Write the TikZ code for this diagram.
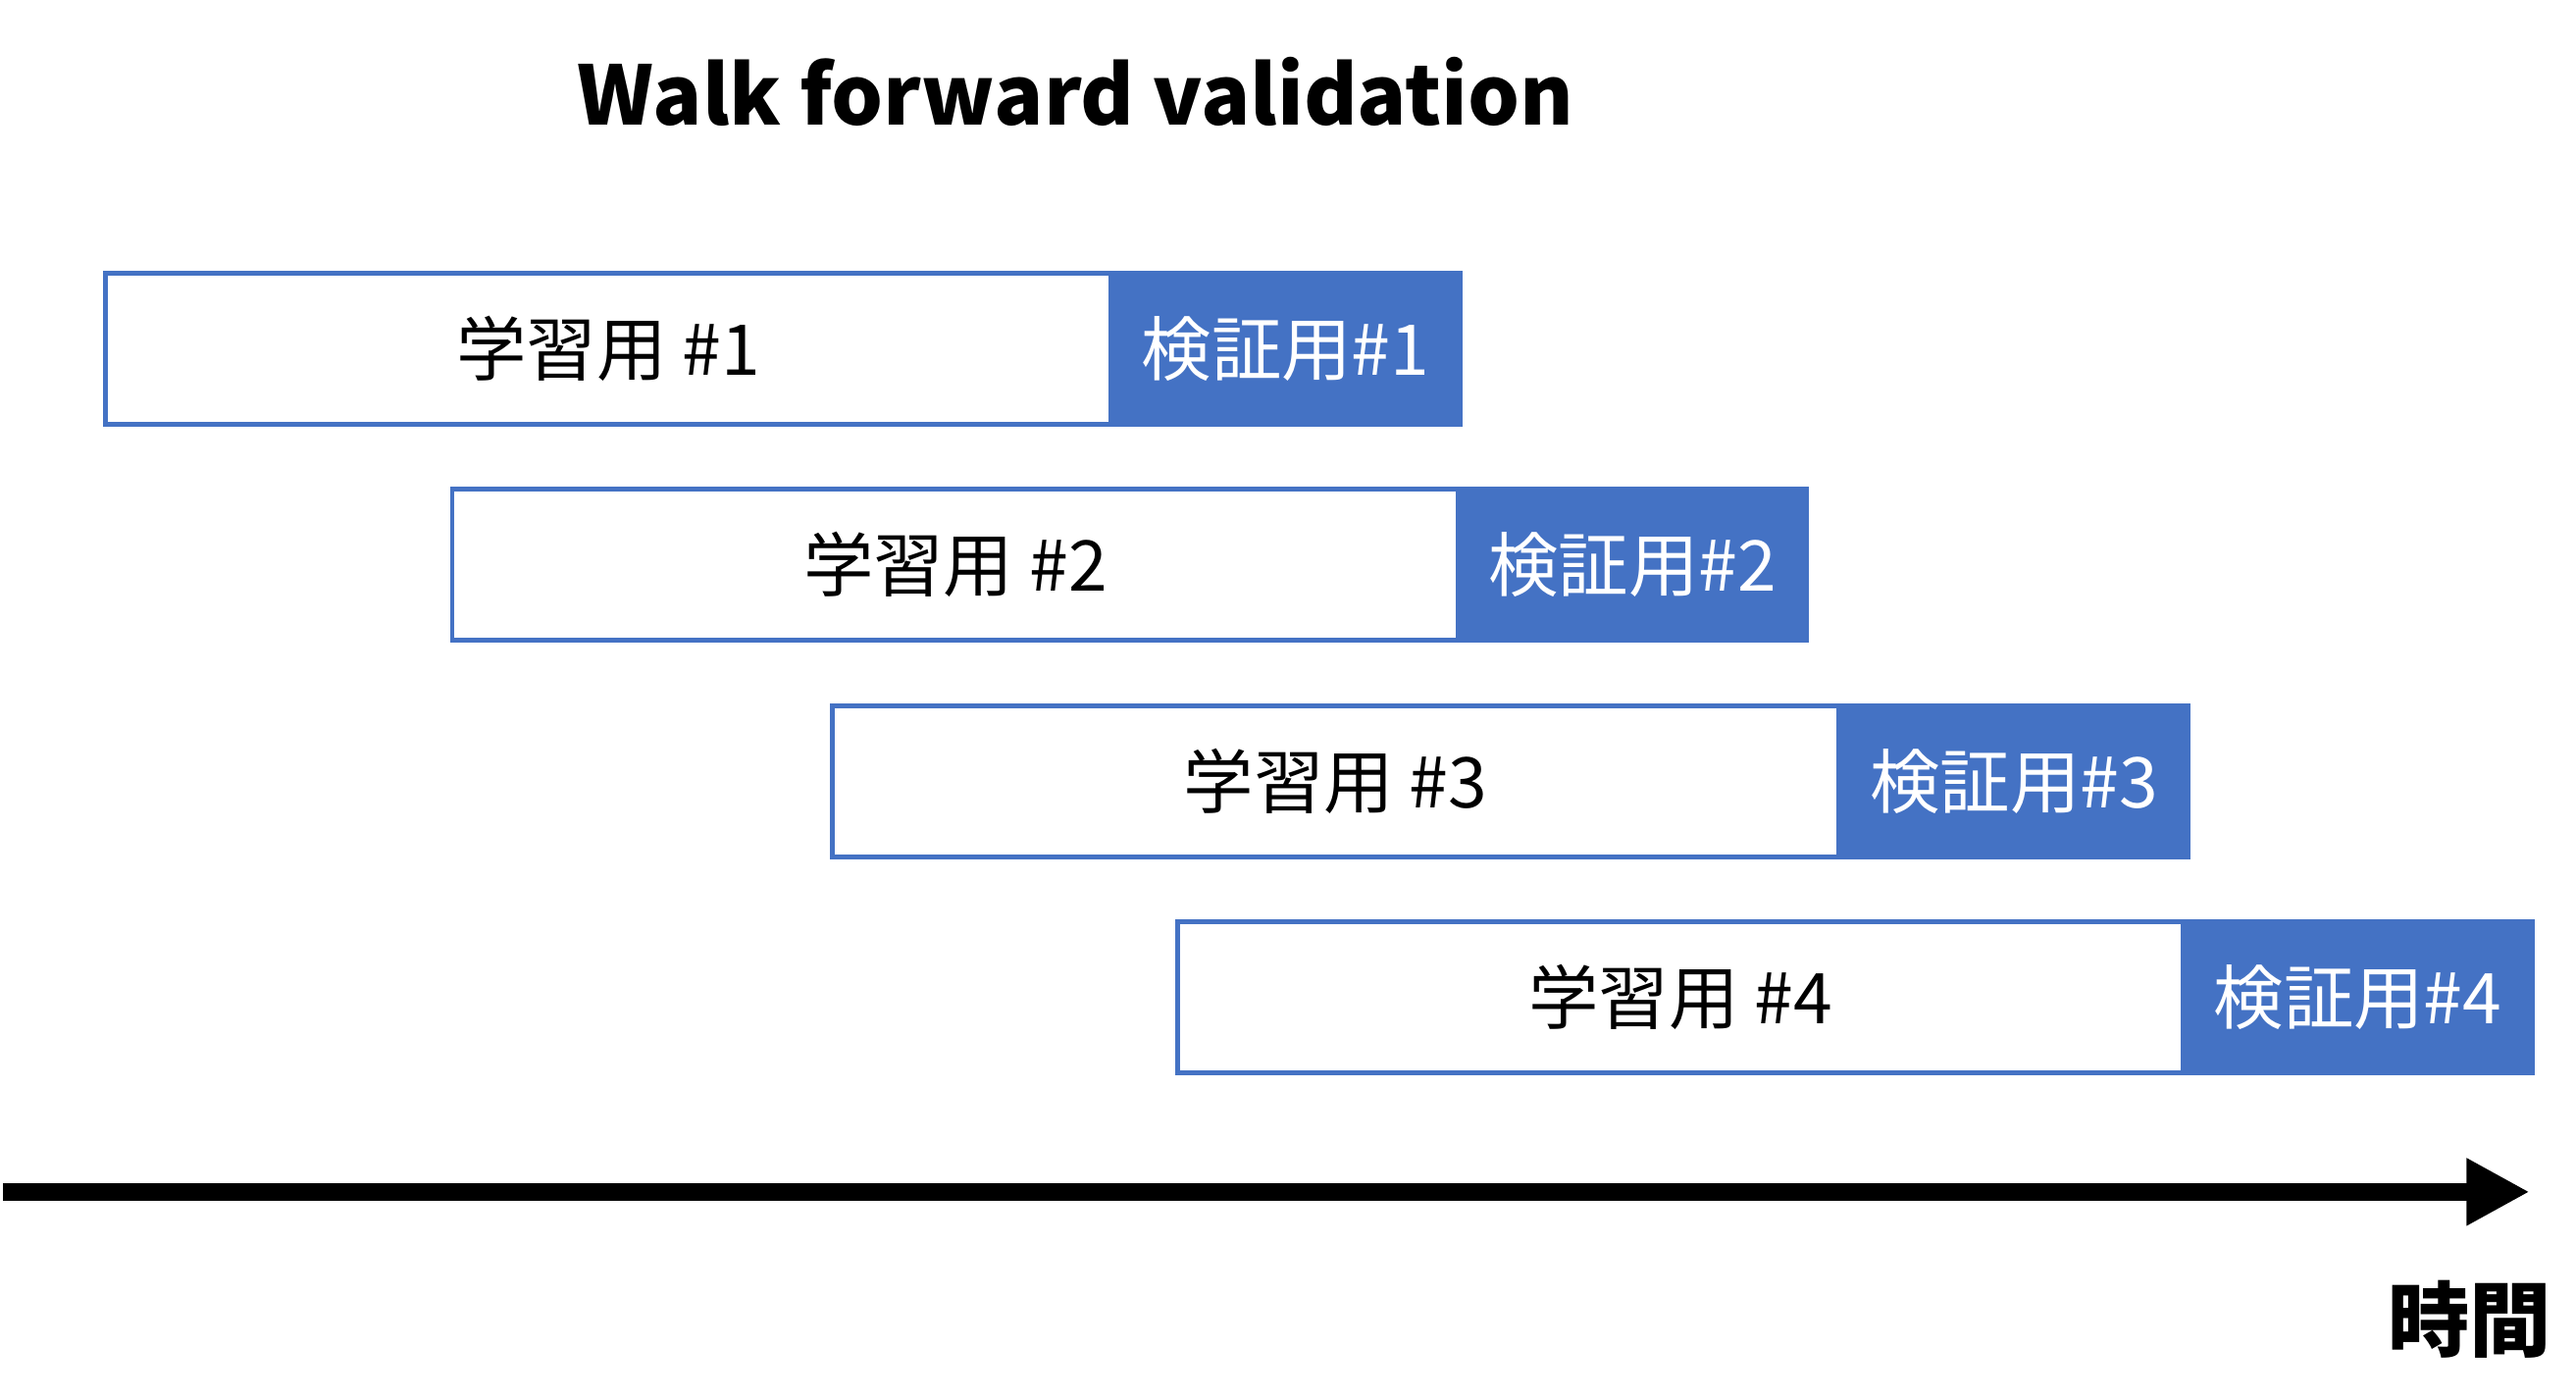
\documentclass[tikz,border=0pt]{standalone}
\usepackage{fontspec}
\setmainfont{Noto Sans CJK JP}
\usetikzlibrary{arrows.meta}
\definecolor{valblue}{RGB}{68,114,196}
\tikzset{
  trainbox/.style={draw=valblue,line width=0.8pt,fill=white,minimum width=6.06cm,minimum height=0.91cm,font=\fontsize{12}{14}\selectfont},
  testbox/.style={draw=valblue,line width=0.8pt,fill=valblue,text=white,minimum width=2.1cm,minimum height=0.91cm,font=\fontsize{12}{14}\selectfont}
}
\begin{document}
\begin{tikzpicture}[x=0.01cm,y=-0.01cm]
    \useasboundingbox (0,0) rectangle (1552,843);
    \node (title) at (648,55) {\fontsize{14}{17}\selectfont\bfseries Walk forward validation};

    \node [trainbox,anchor=north west](t1)at(62,163){学習用 \#1};
    \node [testbox,anchor=north west](v1)at(668,163){検証用\#1};
    \node [trainbox,anchor=north west](t2)at(271,293){学習用 \#2};
    \node [testbox,anchor=north west](v2)at(877,293){検証用\#2};
    \node [trainbox,anchor=north west](t3)at(500,424){学習用 \#3};
    \node [testbox,anchor=north west](v3)at(1107,424){検証用\#3};
    \node [trainbox,anchor=north west](t4)at(708,554){学習用 \#4};
    \node [testbox,anchor=north west](v4)at(1314,554){検証用\#4};

    \coordinate (s) at (2,718);
    \coordinate (e) at (1524,718);
    \draw [line width=3pt,-{Triangle[length=0.38cm,width=0.38cm]}] (s) -- (e);
    \node (time) at (1488,795) {\fontsize{14}{17}\selectfont\bfseries 時間};
\end{tikzpicture}
\end{document}
